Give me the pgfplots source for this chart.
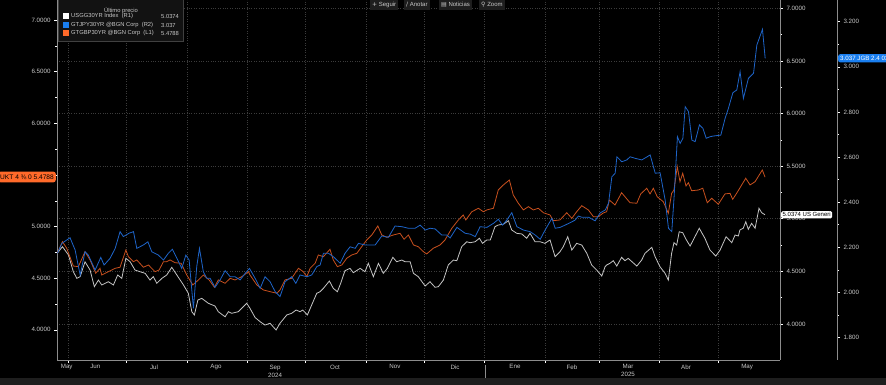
\documentclass[border=0pt]{standalone}
\usepackage{fontspec}
\setmainfont{Liberation Sans}
\newfontfamily\symfont{DejaVu Sans}
\usepackage{pgfplots}
\pgfplotsset{compat=1.18}
\definecolor{gridc}{HTML}{3C3C3C}
\definecolor{axc}{HTML}{8C8C8C}
\definecolor{txt}{HTML}{C8C8C8}
\definecolor{usc}{HTML}{C4C4C4}
\definecolor{jpc}{HTML}{1E64C8}
\definecolor{gbc}{HTML}{C8501E}
\definecolor{jpflag}{HTML}{1A7FF0}
\definecolor{gbflag}{HTML}{FF6A2A}
\definecolor{legbg}{HTML}{121212}
\definecolor{barbg}{HTML}{1E1E1E}

\pgfplotsset{
  common/.style={
    scale only axis, height=360pt,
    at={(57pt,25pt)}, anchor=south west,
    xmin=25.3,
    /pgf/number format/assume math mode=true,
    tick label style={font=\fontsize{6.2}{8}\selectfont, text=txt},
    axis line style={draw=axc, line width=0.6pt},
    tick style={draw=white, line width=0.5pt},
    major tick length=3pt, minor tick length=2pt,
    tick align=outside,
    clip=true,
  },
}

\pgfplotstableread{
d v
25.5 4.674
28.1 4.734
31.2 4.655
33.7 4.496
35.5 4.433
37.2 4.449
39.7 4.591
42.3 4.512
44.5 4.354
46.6 4.417
48.3 4.370
51.7 4.401
54.3 4.370
56.5 4.465
58.6 4.433
60.7 4.624
62.9 4.591
65.4 4.512
68.0 4.496
70.6 4.481
73.1 4.417
74.8 4.449
76.6 4.386
79.2 4.433
81.7 4.465
84.3 4.538
86.9 4.465
90.3 4.370
92.8 4.291
94.6 4.116
95.9 4.085
97.7 4.227
99.7 4.243
103.1 4.196
106.5 4.170
108.2 4.116
111.7 4.068
113.4 4.116
115.1 4.101
118.5 4.116
122.8 4.196
124.5 4.148
127.1 4.061
129.7 4.021
132.2 3.989
134.8 4.006
137.9 3.942
139.9 4.006
143.4 4.085
145.9 4.101
148.2 4.132
150.2 4.116
151.6 4.132
154.0 4.085
156.2 4.180
158.8 4.291
160.5 4.306
162.2 4.338
165.3 4.408
167.3 4.338
169.4 4.306
171.1 4.386
173.3 4.506
175.9 4.528
177.6 4.487
181.1 4.528
183.6 4.496
185.3 4.576
187.9 4.449
190.5 4.576
193.0 4.481
195.1 4.528
197.9 4.633
199.9 4.591
202.5 4.607
204.2 4.591
206.8 4.591
208.5 4.481
211.0 4.449
214.5 4.360
217.0 4.401
219.6 4.348
221.3 4.354
223.9 4.417
226.4 4.560
229.0 4.607
230.8 4.601
233.3 4.734
235.9 4.781
237.6 4.772
240.2 4.781
242.4 4.814
244.0 4.766
246.2 4.798
248.0 4.798
250.4 4.924
252.1 4.940
254.7 4.947
257.3 4.981
259.0 4.893
261.6 4.861
264.2 4.855
266.7 4.814
268.4 4.861
271.0 4.781
273.6 4.781
276.1 4.766
278.7 4.798
281.3 4.639
283.8 4.686
285.5 4.734
287.8 4.829
289.9 4.702
292.4 4.766
295.0 4.750
297.6 4.671
300.1 4.560
302.7 4.512
305.3 4.455
307.0 4.544
307.8 4.560
309.5 4.576
311.2 4.601
313.0 4.550
315.5 4.633
317.2 4.601
318.9 4.623
323.3 4.550
325.8 4.607
327.5 4.671
331.0 4.728
332.7 4.639
335.2 4.544
337.8 4.481
339.5 4.417
341.2 4.671
342.4 4.772
343.8 4.750
345.1 4.876
346.9 4.867
348.6 4.804
350.7 4.740
355.4 4.909
358.3 4.814
360.9 4.702
363.9 4.645
366.1 4.702
369.2 4.829
372.1 4.772
373.8 4.845
375.5 4.836
376.3 4.893
378.0 4.909
379.3 4.971
380.6 4.899
382.3 4.956
384.1 4.909
386.1 5.099
387.5 5.057
389.2 5.0374
}\ustable

\pgfplotstableread{
d v
25.5 4.744
28.1 4.854
30.3 4.790
33.7 4.618
36.3 4.612
39.7 4.757
42.3 4.677
45.2 4.548
47.4 4.596
48.3 4.531
51.7 4.563
55.2 4.596
57.7 4.606
60.7 4.773
62.0 4.708
64.6 4.660
66.3 4.677
69.7 4.606
72.3 4.628
75.7 4.563
77.8 4.580
80.0 4.660
81.7 4.660
83.4 4.677
86.0 4.650
89.1 4.645
92.0 4.531
95.1 4.435
98.0 4.483
100.5 4.531
103.5 4.483
106.2 4.412
108.2 4.483
111.7 4.451
114.3 4.499
116.8 4.483
120.3 4.515
123.7 4.563
124.5 4.531
128.0 4.435
131.4 4.386
134.8 4.370
138.3 4.354
139.9 4.386
142.5 4.483
145.9 4.499
149.4 4.596
151.9 4.563
153.7 4.515
155.4 4.596
158.0 4.645
159.6 4.725
162.2 4.708
165.6 4.780
167.3 4.677
169.4 4.612
171.7 4.628
174.2 4.693
176.8 4.725
179.4 4.741
181.9 4.805
184.5 4.870
187.1 4.919
190.2 5.006
192.2 4.919
194.8 4.896
198.2 4.919
201.6 4.935
203.7 4.877
205.9 4.919
208.5 4.822
211.0 4.805
213.6 4.757
215.3 4.735
218.7 4.790
222.2 4.822
224.7 4.870
228.2 4.983
231.6 5.064
234.1 5.112
235.4 5.064
238.5 5.144
241.9 5.177
244.4 5.144
246.2 5.161
249.6 5.177
252.1 5.354
254.7 5.403
257.8 5.451
259.8 5.306
262.4 5.226
265.0 5.161
267.6 5.193
270.1 5.161
272.7 5.177
275.3 5.134
278.7 5.112
280.4 5.057
283.8 5.064
287.3 5.134
289.9 5.080
292.4 5.144
295.0 5.202
298.4 5.161
301.0 5.096
303.5 5.096
306.1 5.132
307.8 5.144
309.2 5.257
312.1 5.209
315.5 5.328
319.8 5.231
323.3 5.226
325.3 5.316
328.4 5.371
330.1 5.316
331.8 5.371
333.8 5.289
336.9 5.241
339.5 5.129
341.2 5.322
342.4 5.354
344.1 5.580
345.5 5.435
346.9 5.516
348.6 5.393
349.8 5.425
351.5 5.347
354.9 5.354
357.2 5.371
359.5 5.231
361.8 5.274
365.2 5.216
368.6 5.316
371.2 5.322
372.6 5.264
374.6 5.322
379.3 5.468
381.5 5.403
384.1 5.435
387.8 5.548
389.2 5.4788
}\gbtable

\pgfplotstableread{
d v
25.5 2.173
27.8 2.217
32.0 2.242
34.6 2.188
37.2 2.077
39.7 2.180
41.4 2.165
44.9 2.099
47.8 2.155
49.5 2.121
52.6 2.151
55.2 2.195
57.7 2.269
59.4 2.247
62.3 2.262
64.6 2.269
66.3 2.195
69.7 2.210
72.0 2.224
74.0 2.180
77.4 2.165
80.0 2.143
82.5 2.173
84.6 2.191
86.9 2.151
89.4 2.106
91.5 2.165
93.2 2.143
95.4 1.929
97.1 2.114
98.5 2.195
100.5 2.091
102.3 2.062
104.0 2.062
106.5 2.022
109.1 2.055
111.7 2.096
114.3 2.069
116.8 2.069
119.4 2.055
122.0 2.084
124.2 2.106
127.1 2.062
129.7 2.018
132.2 2.069
134.8 2.047
137.4 2.003
139.9 1.981
142.5 2.047
145.9 2.069
148.0 2.040
150.2 2.077
153.7 2.069
156.2 2.077
158.8 2.114
160.5 2.121
162.2 2.173
164.8 2.173
167.3 2.158
170.8 2.129
173.3 2.173
175.9 2.202
178.5 2.195
180.2 2.217
183.6 2.210
188.8 2.210
192.2 2.250
195.6 2.244
199.0 2.294
202.5 2.291
205.9 2.284
209.3 2.284
211.9 2.298
214.5 2.276
217.0 2.284
219.6 2.281
223.0 2.254
225.6 2.254
227.3 2.241
230.8 2.288
235.0 2.262
237.6 2.258
240.2 2.247
242.7 2.291
246.2 2.288
249.6 2.306
252.1 2.324
254.2 2.298
256.4 2.320
259.0 2.353
261.6 2.291
265.0 2.276
268.4 2.269
271.0 2.254
273.6 2.235
276.1 2.276
279.6 2.328
281.3 2.284
283.8 2.288
286.4 2.298
289.0 2.309
291.5 2.320
293.2 2.338
295.0 2.333
298.4 2.333
301.8 2.317
304.4 2.352
307.0 2.365
308.7 2.395
310.4 2.512
312.1 2.528
313.0 2.601
315.5 2.579
318.1 2.587
319.8 2.601
322.4 2.594
325.8 2.587
330.1 2.609
332.7 2.528
335.2 2.530
337.8 2.409
339.5 2.284
341.2 2.269
342.4 2.424
344.1 2.690
345.5 2.660
346.9 2.683
348.1 2.823
349.8 2.801
351.5 2.675
353.2 2.668
355.4 2.742
357.2 2.727
358.9 2.683
360.9 2.690
362.6 2.693
366.4 2.697
368.6 2.771
370.3 2.816
372.6 2.885
374.6 2.897
376.3 2.978
378.0 2.860
380.6 2.949
383.2 2.971
384.9 3.096
387.8 3.166
389.2 3.037
}\jptable

\begin{document}
\begin{tikzpicture}
\path[use as bounding box, fill=black] (0,0) rectangle (886pt,385pt);
\fill[barbg] (0,0) rectangle (886pt,7pt);

% R1: US 30Y, grids and month boundary ticks
\begin{axis}[common, width=723pt, xmax=396.9,
  ymin=3.657, ymax=7.079,
  axis y line*=right, axis x line*=bottom,
  ytick={4,4.5,5,5.5,6,6.5,7}, minor y tick num=1,
  yticklabel style={/pgf/number format/.cd, fixed, fixed zerofill, precision=4},
  xtick={31,61,92,123,153,184,214,245,276,304,335,365},
  xticklabels={},
  xmajorgrids, ymajorgrids,
  major grid style={draw=gridc, dotted, line width=0.5pt},
]
\addplot[usc, line width=0.8pt] table[x=d, y=v] {\ustable};
\end{axis}

% L1: GBP 30Y, month labels
\begin{axis}[common, width=723pt, xmax=396.9,
  ymin=3.708, ymax=7.194,
  axis y line*=left, axis x line*=bottom,
  ytick={4,4.5,5,5.5,6,6.5,7}, minor y tick num=1,
  yticklabel style={/pgf/number format/.cd, fixed, fixed zerofill, precision=4},
  xtick={30.3,45,75.2,107,137.4,168.2,199,229.9,260.7,290,318.8,348.6,380},
  xticklabels={May,Jun,Jul,Ago,{Sep\\2024},Oct,Nov,Dic,Ene,Feb,{Mar\\2025},Abr,May},
  xticklabel style={align=center, inner sep=1.5pt},
  xtick style={draw=none},
]
\addplot[gbc, line width=0.8pt] table[x=d, y=v] {\gbtable};
\end{axis}

% R2: JPY 30Y, outer right axis
\begin{axis}[common, width=780pt, xmax=426.1,
  ymin=1.700, ymax=3.296,
  axis y line*=right, axis x line=none,
  ytick={1.8,2,2.2,2.4,2.6,2.8,3,3.2}, minor y tick num=1,
  yticklabel style={/pgf/number format/.cd, fixed, fixed zerofill, precision=3},
]
\addplot[jpc, line width=0.8pt] table[x=d, y=v] {\jptable};
\end{axis}

% year separator
\draw[axc, line width=0.5pt] (485pt,20pt) -- (485pt,7pt);

% legend
\filldraw[fill=legbg, draw=black!75!white, line width=0.4pt] (58pt,344pt) rectangle (183pt,386pt);
\begin{scope}[every node/.style={font=\fontsize{5.8}{7}\selectfont, text=txt, inner sep=0pt}]
\node at (121pt,374.5pt) {Último precio};
\fill[white] (63pt,366pt) rectangle (68.5pt,371.5pt);
\fill[jpflag] (63pt,357pt) rectangle (68.5pt,362.5pt);
\fill[gbflag] (63pt,349pt) rectangle (68.5pt,354.5pt);
\node[anchor=west] at (71pt,368.5pt) {USGG30YR Index\ \ (R1)};
\node[anchor=west] at (71pt,359.5pt) {GTJPY30YR @BGN Corp\ \ (R2)};
\node[anchor=west] at (71pt,351.5pt) {GTGBP30YR @BGN Corp\ \ (L1)};
\node[anchor=west] at (161pt,368.5pt) {5.0374};
\node[anchor=west] at (161pt,359.5pt) {3.037};
\node[anchor=west] at (161pt,351.5pt) {5.4788};
\end{scope}

% toolbar
\begin{scope}[every node/.style={font=\fontsize{6}{7}\selectfont, text=txt, fill=barbg, inner xsep=2pt, inner ysep=0pt, minimum height=10pt, anchor=west}]
\node at (370pt,380pt) {{\symfont +}\ Seguir};
\node at (404pt,380pt) {{\symfont ∕}\ Anotar};
\node at (439pt,380pt) {{\symfont ▤}\ Noticias};
\node at (479pt,380pt) {{\symfont ⚲}\ Zoom};
\end{scope}

% value flags
\node[fill=gbflag, text=black, font=\fontsize{6.6}{7}\selectfont, inner xsep=2pt, inner ysep=3pt, rounded corners=2.5pt, anchor=east] at (56pt,208pt) {UKT 4 ⅜ 0 5.4788};
\node[fill=white, text=black, font=\fontsize{6}{7}\selectfont, inner xsep=1.5pt, inner ysep=1.5pt, rounded corners=1.5pt, anchor=west] at (781pt,170.2pt) {5.0374 US Generi};
\node[fill=jpflag, text=white, font=\fontsize{6.2}{7}\selectfont, inner xsep=2pt, inner ysep=1.8pt, rounded corners=2pt, anchor=west] at (838pt,326.7pt) {3.037 JGB 2.4 03/20/55};
\end{tikzpicture}
\end{document}
